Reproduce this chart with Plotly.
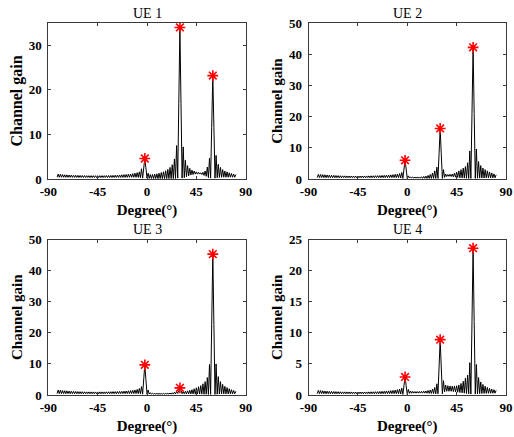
import plotly.graph_objects as go

# Angle grid (degrees) and channel gain
degrees = list(range(-82, 82))

ue1_gain = [
    0.40, 1.10, 0.40, 1.05, 0.40, 1.00, 0.38, 0.95, 0.38, 0.92,
    0.37, 0.90, 0.37, 0.87, 0.36, 0.85, 0.36, 0.83, 0.35, 0.82,
    0.35, 0.80, 0.34, 0.78, 0.34, 0.77, 0.33, 0.76, 0.33, 0.75,
    0.32, 0.75, 0.32, 0.74, 0.32, 0.74, 0.32, 0.74, 0.32, 0.75,
    0.32, 0.75, 0.32, 0.76, 0.32, 0.77, 0.33, 0.78, 0.33, 0.80,
    0.33, 0.82, 0.34, 0.84, 0.34, 0.87, 0.35, 0.90, 0.35, 0.94,
    0.36, 0.98, 0.36, 1.02, 0.37, 1.07, 0.37, 1.12, 0.38, 1.20,
    0.38, 1.30, 0.38, 1.42, 0.36, 1.60, 0.30, 2.30, 0.20, 2.50,
    4.60, 2.50, 0.20, 1.30, 0.15, 1.00, 0.12, 1.00, 0.10, 1.08,
    0.10, 1.18, 0.10, 1.30, 0.10, 1.45, 0.10, 1.62, 0.10, 1.85,
    0.10, 2.15, 0.10, 2.60, 0.10, 3.20, 0.10, 4.50, 0.12, 7.50,
    0.20, 17.0, 34.0, 17.0, 0.20, 7.20, 0.30, 4.20, 0.50, 3.00,
    0.70, 2.40, 0.90, 2.00, 1.00, 1.80, 1.10, 1.60, 1.10, 1.50,
    1.10, 1.40, 1.00, 1.50, 0.80, 1.80, 0.60, 2.70, 0.30, 4.70,
    0.20, 11.6, 23.2, 11.6, 0.20, 5.30, 0.30, 3.30, 0.35, 2.60,
    0.38, 2.10, 0.40, 1.80, 0.40, 1.60, 0.40, 1.40, 0.40, 1.25,
    0.40, 1.10, 0.40, 1.00,
]

ue2_gain = [
    0.45, 1.50, 0.45, 1.45, 0.44, 1.40, 0.44, 1.35, 0.43, 1.30,
    0.43, 1.25, 0.42, 1.20, 0.42, 1.16, 0.41, 1.12, 0.41, 1.08,
    0.40, 1.05, 0.40, 1.02, 0.40, 1.00, 0.40, 0.98, 0.40, 0.97,
    0.40, 0.96, 0.40, 0.95, 0.40, 0.95, 0.40, 0.95, 0.40, 0.95,
    0.40, 0.96, 0.40, 0.97, 0.40, 0.98, 0.40, 1.00, 0.40, 1.02,
    0.41, 1.04, 0.41, 1.06, 0.42, 1.08, 0.42, 1.11, 0.43, 1.14,
    0.43, 1.18, 0.44, 1.22, 0.44, 1.27, 0.45, 1.33, 0.45, 1.40,
    0.45, 1.48, 0.45, 1.58, 0.43, 1.75, 0.35, 2.10, 0.20, 3.20,
    6.00, 3.20, 0.20, 1.00, 0.30, 0.70, 0.30, 0.62, 0.30, 0.60,
    0.30, 0.62, 0.28, 0.66, 0.26, 0.72, 0.24, 0.82, 0.22, 0.95,
    0.20, 1.15, 0.20, 1.45, 0.20, 1.90, 0.20, 2.60, 0.20, 3.80,
    0.20, 8.10, 16.2, 8.10, 0.20, 3.00, 0.50, 1.60, 0.80, 1.45,
    0.85, 1.50, 0.80, 1.60, 0.70, 1.85, 0.60, 2.20, 0.50, 2.60,
    0.40, 3.00, 0.35, 3.50, 0.30, 4.00, 0.25, 5.20, 0.20, 9.00,
    0.20, 21.0, 42.2, 21.0, 0.20, 9.60, 0.25, 5.60, 0.30, 4.30,
    0.32, 3.50, 0.35, 3.00, 0.36, 2.60, 0.37, 2.25, 0.38, 1.95,
    0.38, 1.65, 0.39, 1.35,
]

ue3_gain = [
    0.45, 1.60, 0.45, 1.52, 0.44, 1.45, 0.44, 1.38, 0.43, 1.32,
    0.43, 1.27, 0.42, 1.22, 0.42, 1.18, 0.41, 1.14, 0.41, 1.10,
    0.40, 1.07, 0.40, 1.05, 0.40, 1.03, 0.40, 1.01, 0.40, 1.00,
    0.40, 1.00, 0.40, 0.99, 0.40, 0.99, 0.40, 0.99, 0.40, 1.00,
    0.40, 1.00, 0.40, 1.01, 0.40, 1.02, 0.41, 1.04, 0.41, 1.06,
    0.41, 1.08, 0.42, 1.10, 0.42, 1.13, 0.43, 1.16, 0.43, 1.20,
    0.44, 1.24, 0.44, 1.29, 0.45, 1.35, 0.45, 1.42, 0.46, 1.50,
    0.46, 1.62, 0.46, 1.78, 0.44, 2.10, 0.36, 2.70, 0.25, 5.00,
    9.70, 5.00, 0.25, 1.60, 0.30, 0.75, 0.30, 0.55, 0.30, 0.50,
    0.30, 0.48, 0.30, 0.48, 0.30, 0.48, 0.30, 0.50, 0.30, 0.52,
    0.30, 0.56, 0.30, 0.62, 0.30, 0.72, 0.30, 0.88, 0.35, 1.15,
    0.50, 1.50, 2.30, 1.50, 0.40, 1.05, 0.35, 1.20, 0.35, 1.35,
    0.35, 1.50, 0.35, 1.70, 0.35, 2.00, 0.30, 2.30, 0.30, 2.65,
    0.30, 3.00, 0.30, 3.60, 0.25, 4.30, 0.25, 5.60, 0.20, 9.80,
    0.20, 22.6, 45.3, 22.6, 0.20, 10.0, 0.25, 5.90, 0.30, 4.30,
    0.32, 3.40, 0.34, 2.80, 0.36, 2.40, 0.37, 2.00, 0.38, 1.70,
    0.39, 1.45, 0.40, 1.20,
]

ue4_gain = [
    0.22, 0.75, 0.22, 0.71, 0.21, 0.68, 0.21, 0.65, 0.20, 0.62,
    0.20, 0.60, 0.20, 0.58, 0.20, 0.56, 0.20, 0.54, 0.20, 0.53,
    0.20, 0.52, 0.20, 0.51, 0.20, 0.50, 0.20, 0.50, 0.20, 0.49,
    0.20, 0.49, 0.20, 0.48, 0.20, 0.48, 0.20, 0.48, 0.20, 0.48,
    0.20, 0.48, 0.20, 0.49, 0.20, 0.49, 0.20, 0.50, 0.20, 0.51,
    0.20, 0.52, 0.20, 0.53, 0.20, 0.55, 0.20, 0.57, 0.21, 0.59,
    0.21, 0.61, 0.21, 0.64, 0.22, 0.67, 0.22, 0.70, 0.22, 0.74,
    0.22, 0.79, 0.22, 0.86, 0.20, 0.95, 0.16, 1.10, 0.10, 1.50,
    2.90, 1.50, 0.10, 0.90, 0.25, 0.65, 0.28, 0.58, 0.30, 0.56,
    0.30, 0.56, 0.30, 0.57, 0.30, 0.59, 0.30, 0.62, 0.30, 0.66,
    0.28, 0.72, 0.26, 0.80, 0.24, 0.95, 0.22, 1.20, 0.20, 1.80,
    0.20, 4.50, 8.90, 4.50, 0.20, 2.30, 0.50, 1.60, 0.60, 1.50,
    0.60, 1.45, 0.60, 1.42, 0.55, 1.42, 0.50, 1.48, 0.45, 1.60,
    0.40, 1.85, 0.35, 2.20, 0.30, 2.70, 0.25, 3.20, 0.20, 5.20,
    0.15, 11.8, 23.6, 11.8, 0.15, 4.90, 0.20, 2.80, 0.22, 2.10,
    0.24, 1.70, 0.25, 1.42, 0.26, 1.22, 0.27, 1.06, 0.28, 0.95,
    0.28, 0.85, 0.29, 0.75,
]

# Beam peak markers
peak_degrees = [-2, 30, 60]
ue1_peaks = [4.6, 34.0, 23.2]
ue2_peaks = [6.0, 16.2, 42.2]
ue3_peaks = [9.7, 2.3, 45.3]
ue4_peaks = [2.9, 8.9, 23.6]

titles = ["UE 1", "UE 2", "UE 3", "UE 4"]
x_ticks = [-90, -45, 0, 45, 90]
x_ticktext = ["-90", "-45", "0", "45", "90"]
y_ranges = [[0, 35], [0, 50], [0, 50], [0, 25]]
y_dticks = [10, 10, 10, 5]

W, H = 514, 437
# plot boxes in pixels: (left, right, top, bottom)
boxes = [(48.3, 245.7, 23, 179), (308.5, 506, 23, 179),
         (48.3, 245.7, 239.5, 395), (308.5, 506, 239.5, 395)]

FONT = "Liberation Serif, Times New Roman, serif"
fig = go.Figure()

series = [ue1_gain, ue2_gain, ue3_gain, ue4_gain]
peaks = [ue1_peaks, ue2_peaks, ue3_peaks, ue4_peaks]

for i in range(4):
    sfx = "" if i == 0 else str(i + 1)
    fig.add_trace(go.Scatter(x=degrees, y=series[i], mode="lines",
                             line=dict(color="black", width=1),
                             xaxis="x" + sfx, yaxis="y" + sfx,
                             showlegend=False, hoverinfo="skip"))
    fig.add_trace(go.Scatter(x=peak_degrees, y=peaks[i], mode="markers",
                             marker=dict(symbol="asterisk-open", size=9,
                                         color="red",
                                         line=dict(color="red", width=1.6)),
                             xaxis="x" + sfx, yaxis="y" + sfx,
                             showlegend=False, cliponaxis=False))

    l, r, t, b = boxes[i]
    axis_common = dict(showline=True, linecolor="#3a3a3a", linewidth=1,
                       mirror="ticks", ticks="inside", ticklen=3,
                       tickcolor="#3a3a3a", showgrid=False, zeroline=False,
                       automargin=False,
                       tickfont=dict(family=FONT, size=13, color="black",
                                     weight="bold"))
    fig.layout["xaxis" + sfx] = dict(
        domain=[l / W, r / W], anchor="y" + sfx, range=[-90, 90],
        tickvals=x_ticks, ticktext=x_ticktext,
        title=dict(text="Degree(°)", standoff=6,
                   font=dict(family=FONT, size=15, color="black", weight="bold")),
        **axis_common)
    fig.layout["yaxis" + sfx] = dict(
        domain=[1 - b / H, 1 - t / H], anchor="x" + sfx, range=y_ranges[i],
        dtick=y_dticks[i], tick0=0, ticklabelstandoff=3,
        title=dict(text="Channel gain", standoff=2,
                   font=dict(family=FONT, size=16 if i == 0 else 15,
                             color="black", weight="bold")),
        **axis_common)
    fig.add_annotation(text=titles[i], x=(l + r) / 2 / W, y=1 - (t - 10) / H,
                       xref="paper", yref="paper", showarrow=False,
                       xanchor="center", yanchor="middle",
                       font=dict(family=FONT, size=14, color="black"))

fig.update_layout(width=W, height=H, margin=dict(l=0, r=0, t=0, b=0),
                  paper_bgcolor="white", plot_bgcolor="white")

fig.write_html("out.html", config={"displayModeBar": False},
               post_script="document.body.style.margin='0px';"
                           "document.body.style.overflow='hidden';")
